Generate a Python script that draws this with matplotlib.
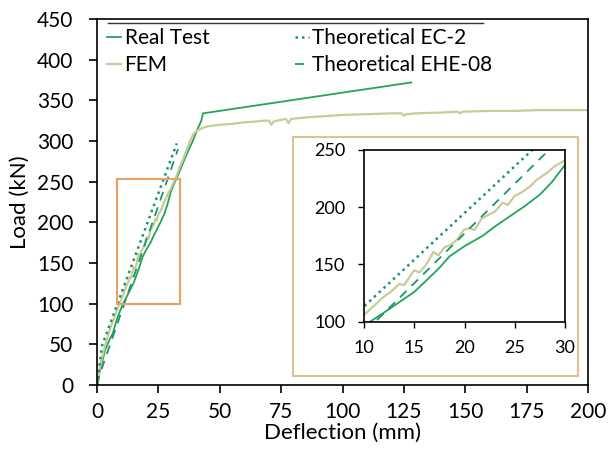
import matplotlib
matplotlib.use("Agg")
import matplotlib.pyplot as plt
from matplotlib.patches import Rectangle

plt.rcParams['font.family'] = ['Lato', 'DejaVu Sans']

# Real test (deflection mm, load kN)
real_x = [0, 1, 2, 3.3, 5, 6.5, 8, 9.5, 10.6, 12, 13.5, 15, 16.2, 17.5, 18.5, 20, 21.8, 23,
          24.5, 26, 27.5, 28.7, 30, 31.5, 33, 36, 39, 41, 42.5, 43.2, 128]
real_y = [0, 15, 27, 43, 55, 64, 80, 92, 100, 108, 117, 126, 136, 147, 157, 166, 175, 183,
          192, 201, 211, 222, 237, 248, 258, 280, 300, 315, 325, 334, 372]

# FEM
fem_x = [0, 1, 2, 3, 4, 5, 6, 7, 8, 9, 10, 11, 12, 12.8, 13.5, 14, 14.6, 15, 15.5, 16.2, 16.9,
         17.4, 18, 18.6, 19.3, 19.9, 20.5, 21, 21.7, 22.3, 23, 23.8, 24.3, 25, 25.7, 26.5, 27.2,
         28.2, 29, 30, 31, 32, 33, 34, 35, 36, 37, 38, 39, 40, 41, 43, 45, 50, 55, 60, 65, 68,
         70, 71, 72, 75, 77, 78, 79, 85, 90, 95, 100, 110, 120, 124, 125, 126, 130, 140, 147,
         148, 149, 160, 170, 180, 190, 200]
fem_y = [0, 18, 33, 45, 56, 66, 75, 83, 91, 99, 106, 114, 122, 127, 133, 132, 140, 145, 143, 150,
         161, 158, 165, 167, 172, 180, 182, 180, 190, 193, 196, 204, 202, 210, 213, 218, 224,
         230, 236, 241, 248, 254, 262, 270, 277, 285, 293, 301, 307, 311, 313, 316, 318, 320,
         321, 323, 324, 325, 325, 320, 324, 326, 327, 322, 327, 329, 330, 331, 332, 333, 334,
         334, 331, 333, 334, 335, 336, 334, 336, 337, 337, 338, 338, 338]

# Theoretical EC-2
ec2_x = [0, 2, 32.5]
ec2_y = [0, 48, 297]

# Theoretical EHE-08
ehe_x = [0, 1, 33]
ehe_y = [0, 12, 290]

c_real = '#23A45C'
c_theo = '#1C9470'
c_fem = '#C9CC98'
c_orange = '#E9A264'
c_tan = '#E0C18F'

fig = plt.figure(figsize=(6.08, 4.55), dpi=100)
ax = fig.add_axes([97 / 608, 1 - 385 / 455, 491 / 608, 366 / 455])


def draw(a):
    a.plot(real_x, real_y, color=c_real, lw=1.3, label='Real Test')
    a.plot(fem_x, fem_y, color=c_fem, lw=1.6, label='FEM')
    a.plot(ec2_x, ec2_y, color=c_theo, lw=1.8, ls=(0, (1, 1.6)), label='Theoretical EC-2')
    a.plot(ehe_x, ehe_y, color=c_theo, lw=1.3, ls=(0, (5, 4)), label='Theoretical EHE-08')


draw(ax)
ax.set_xlim(0, 200)
ax.set_ylim(0, 450)
ax.set_xticks(range(0, 201, 25))
ax.set_yticks(range(0, 451, 50))
ax.tick_params(direction='out', length=6, width=1.2, labelsize=15)
ax.tick_params(axis='y', pad=11)
ax.tick_params(axis='x', pad=6)
for s in ax.spines.values():
    s.set_linewidth(1.2)
ax.set_xlabel('Deflection (mm)', fontsize=16, labelpad=1)
ax.set_ylabel('Load (kN)', fontsize=16, labelpad=5)

# zoom box
ax.add_patch(Rectangle((8, 100), 26, 153, fill=False, edgecolor=c_orange, lw=1.5, zorder=5))

leg = ax.legend(ncol=2, loc='upper left', bbox_to_anchor=(0.02, 0.975), frameon=False,
                fontsize=15, handlelength=0.7, handletextpad=0.15, columnspacing=4.1,
                labelspacing=0.35, borderpad=0, borderaxespad=0)
ax.plot([0.022, 0.786], [0.989, 0.989], transform=ax.transAxes, color='#333333', lw=1,
        clip_on=False)

# inset frame
ax.add_patch(Rectangle((293 / 608, 1 - 376 / 455), 285 / 608, 239 / 455,
                       transform=fig.transFigure, facecolor='white', edgecolor=c_tan,
                       lw=1.5, zorder=6, clip_on=False))

ins = fig.add_axes([364 / 608, 1 - 321.7 / 455, 201 / 608, 171.7 / 455])
draw(ins)
ins.set_xlim(10, 30)
ins.set_ylim(100, 250)
ins.set_xticks(range(10, 31, 5))
ins.set_yticks(range(100, 251, 50))
ins.tick_params(direction='out', length=4.5, width=1, labelsize=13)
ins.tick_params(axis='y', pad=9)
ins.tick_params(axis='x', pad=9)
for s in ins.spines.values():
    s.set_linewidth(1.2)

fig.savefig('out.png', dpi=100)
